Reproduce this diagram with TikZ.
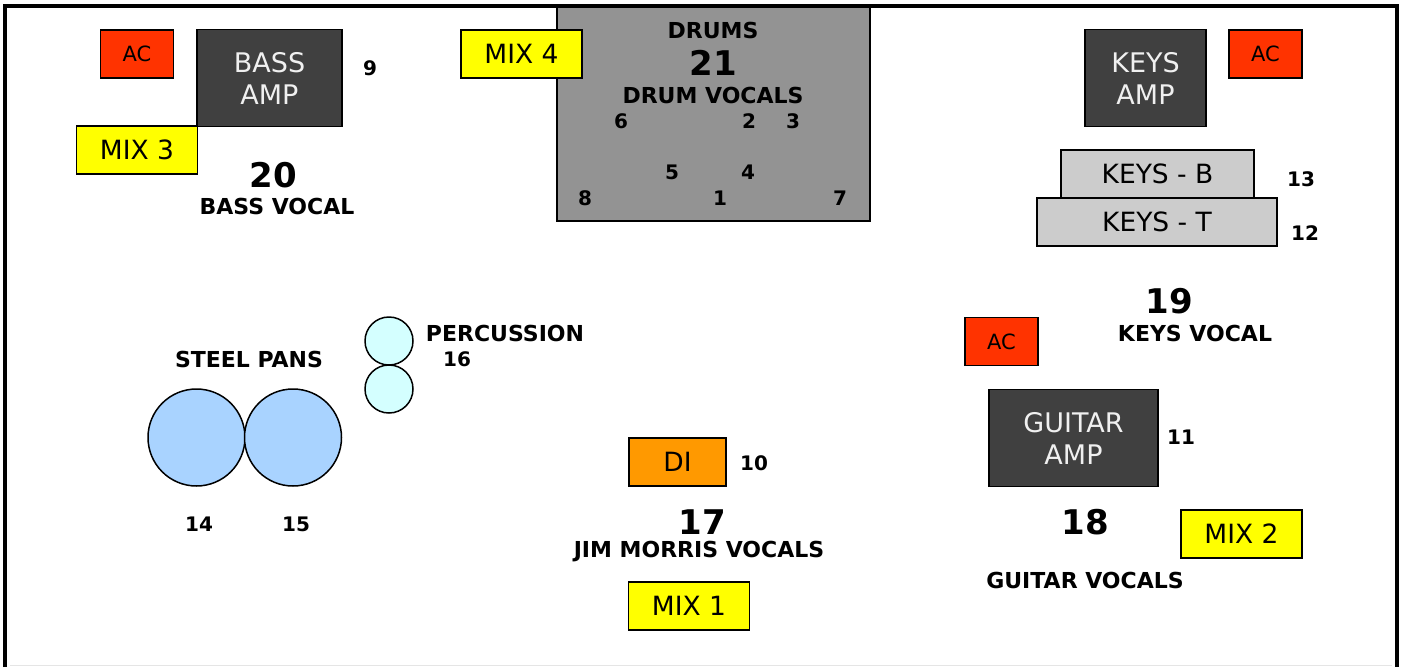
\documentclass[tikz,border=0pt]{standalone}
\usepackage{fontspec}
\setmainfont{DejaVu Sans}
\usepackage{tikz}

\definecolor{acred}{HTML}{FF3300}
\definecolor{mixyellow}{HTML}{FFFF00}
\definecolor{ampgray}{HTML}{404040}
\definecolor{drumgray}{HTML}{939393}
\definecolor{keysgray}{HTML}{CCCCCC}
\definecolor{diorange}{HTML}{FF9900}
\definecolor{panblue}{HTML}{A9D3FF}
\definecolor{percblue}{HTML}{D4FFFF}

\tikzset{
  gear/.style={draw=black, line width=1.5pt, inner sep=0pt, align=center},
  acbox/.style={gear, fill=acred, minimum width=73pt, minimum height=48pt, font=\fontsize{21}{24}\selectfont},
  mixbox/.style={gear, fill=mixyellow, minimum width=121pt, minimum height=48pt, font=\fontsize{26.5}{30}\selectfont},
  ampbox/.style={gear, fill=ampgray, text=white!94!black, minimum height=97pt, font=\fontsize{27}{32}\selectfont},
  keysbox/.style={gear, fill=keysgray, minimum height=48pt, font=\fontsize{26.5}{30}\selectfont},
  pan/.style={circle, draw=black, line width=1.5pt, fill=panblue, minimum size=97pt, inner sep=0pt},
  perc/.style={circle, draw=black, line width=1.5pt, fill=percblue, minimum size=48pt, inner sep=0pt},
  chan/.style={inner sep=0pt, font=\bfseries\fontsize{20}{24}\selectfont},
  bignum/.style={inner sep=0pt, font=\bfseries\fontsize{34}{36}\selectfont},
  spot/.style={inner sep=0pt, font=\bfseries\fontsize{22}{24}\selectfont}
}

\begin{document}
\begin{tikzpicture}[x=1pt, y=-1pt]
  \useasboundingbox (0,0) rectangle (1403,667);

  % drum riser
  \node[gear, fill=drumgray, minimum width=313pt, minimum height=215pt] (drums) at (713.5,113.5) {};
  \node[spot] (drumslbl) at (713,30) {DRUMS};
  \node[bignum] (drumsno) at (713,63) {21};
  \node[spot] (drumvox) at (713,95) {DRUM VOCALS};
  \node[chan] (ch6) at (621,121) {6};
  \node[chan] (ch2) at (749,121) {2};
  \node[chan] (ch3) at (793,121) {3};
  \node[chan] (ch5) at (672,172) {5};
  \node[chan] (ch4) at (748,172) {4};
  \node[chan] (ch8) at (585,198) {8};
  \node[chan] (ch1) at (720,198) {1};
  \node[chan] (ch7) at (840,198) {7};
  \node[mixbox] (mix4) at (521.5,54) {MIX 4};

  % bass corner
  \node[acbox] (acbass) at (137,54) {AC};
  \node[ampbox, minimum width=145pt] (bassamp) at (269.5,78) {BASS\\AMP};
  \node[mixbox] (mix3) at (137,150) {MIX 3};
  \node[chan] (ch9) at (370,68) {9};
  \node[bignum] (bassno) at (273,175) {20};
  \node[spot] (bassvox) at (277,206) {BASS VOCAL};

  % keys corner
  \node[ampbox, minimum width=121pt] (keysamp) at (1145.5,78) {KEYS\\AMP};
  \node[acbox] (ackeys) at (1265.5,54) {AC};
  \node[keysbox, minimum width=193pt] (keysb) at (1157.5,174) {KEYS - B};
  \node[keysbox, minimum width=240pt] (keyst) at (1157,222) {KEYS - T};
  \node[chan] (ch13) at (1301,179) {13};
  \node[chan] (ch12) at (1305,233) {12};
  \node[bignum] (keysno) at (1169,301) {19};
  \node[spot] (keysvox) at (1195,333) {KEYS VOCAL};

  % guitar corner
  \node[acbox] (acgtr) at (1001.5,341.5) {AC};
  \node[ampbox, minimum width=169pt] (gtramp) at (1073.5,438) {GUITAR\\AMP};
  \node[chan] (ch11) at (1181,437) {11};
  \node[bignum] (gtrno) at (1085,522) {18};
  \node[mixbox] (mix2) at (1241.5,534) {MIX 2};
  \node[spot] (gtrvox) at (1085,580) {GUITAR VOCALS};

  % centre vocal
  \node[gear, fill=diorange, minimum width=97pt, minimum height=48pt, font=\fontsize{26.5}{30}\selectfont] (di) at (677.5,462) {DI};
  \node[chan] (ch10) at (754,463) {10};
  \node[bignum] (jimno) at (702,522) {17};
  \node[spot] (jimvox) at (699,552) {JIM MORRIS VOCALS};
  \node[mixbox] (mix1) at (689,606) {MIX 1};

  % steel pans and percussion
  \node[spot] (panslbl) at (249,359) {STEEL PANS};
  \node[pan] (pan14) at (196.5,437.5) {};
  \node[pan] (pan15) at (293,437.5) {};
  \node[chan] (ch14) at (199,524) {14};
  \node[chan] (ch15) at (296,524) {15};
  \node[perc] (perctop) at (389,341) {};
  \node[perc] (percbot) at (389,389) {};
  \node[spot] (perclbl) at (505,333) {PERCUSSION};
  \node[chan] (ch16) at (457,359) {16};

  % stage outline
  \draw[line width=4pt] (5,667) -- (5,6) -- (1397,6) -- (1397,667);
  \draw[gray!20, line width=1pt] (10,665) -- (1392,665);
\end{tikzpicture}
\end{document}
